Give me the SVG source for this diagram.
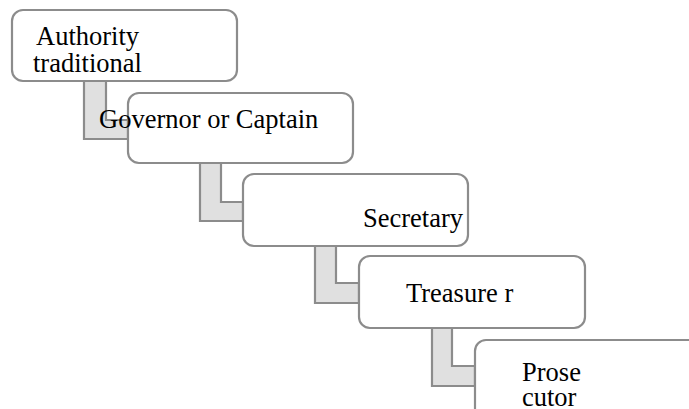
<svg xmlns="http://www.w3.org/2000/svg" width="689" height="409" viewBox="0 0 689 409">
<style>
.box{fill:#ffffff;stroke:#8c8c8c;stroke-width:2.2}
.conn{fill:#e0e0e0;stroke:#8c8c8c;stroke-width:2.2}
.t{font-family:"Liberation Serif","Times New Roman",serif;font-size:26.5px;fill:#000}
</style>
<rect width="689" height="409" fill="#ffffff"/>
<g id="connectors">
<path class="conn" d="M84,81 V139 H128 V120 H106 V81 Z"/>
<path class="conn" d="M200,163 V221 H243 V202 H221 V163 Z"/>
<path class="conn" d="M315,246 V303 H359 V283 H336 V246 Z"/>
<path class="conn" d="M432,328 V386 H475 V366 H452 V328 Z"/>
</g>
<g id="node-authority">
<rect class="box" x="12" y="10" width="225" height="71" rx="11"/>
<text class="t" x="36" y="45">Authority</text>
<text class="t" x="33" y="72">traditional</text>
</g>
<g id="node-governor">
<rect class="box" x="128" y="93" width="225" height="70" rx="11"/>
<text class="t" x="99" y="128">Governor or Captain</text>
</g>
<g id="node-secretary">
<rect class="box" x="243" y="174" width="225" height="72" rx="11"/>
<text class="t" x="363" y="227">Secretary</text>
</g>
<g id="node-treasurer">
<rect class="box" x="359" y="256" width="226" height="72" rx="11"/>
<text class="t" x="406" y="302">Treasure r</text>
</g>
<g id="node-prosecutor">
<rect class="box" x="475" y="340" width="226" height="80" rx="11"/>
<text class="t" x="522" y="381">Prose</text>
<text class="t" x="522" y="406">cutor</text>
</g>
</svg>
